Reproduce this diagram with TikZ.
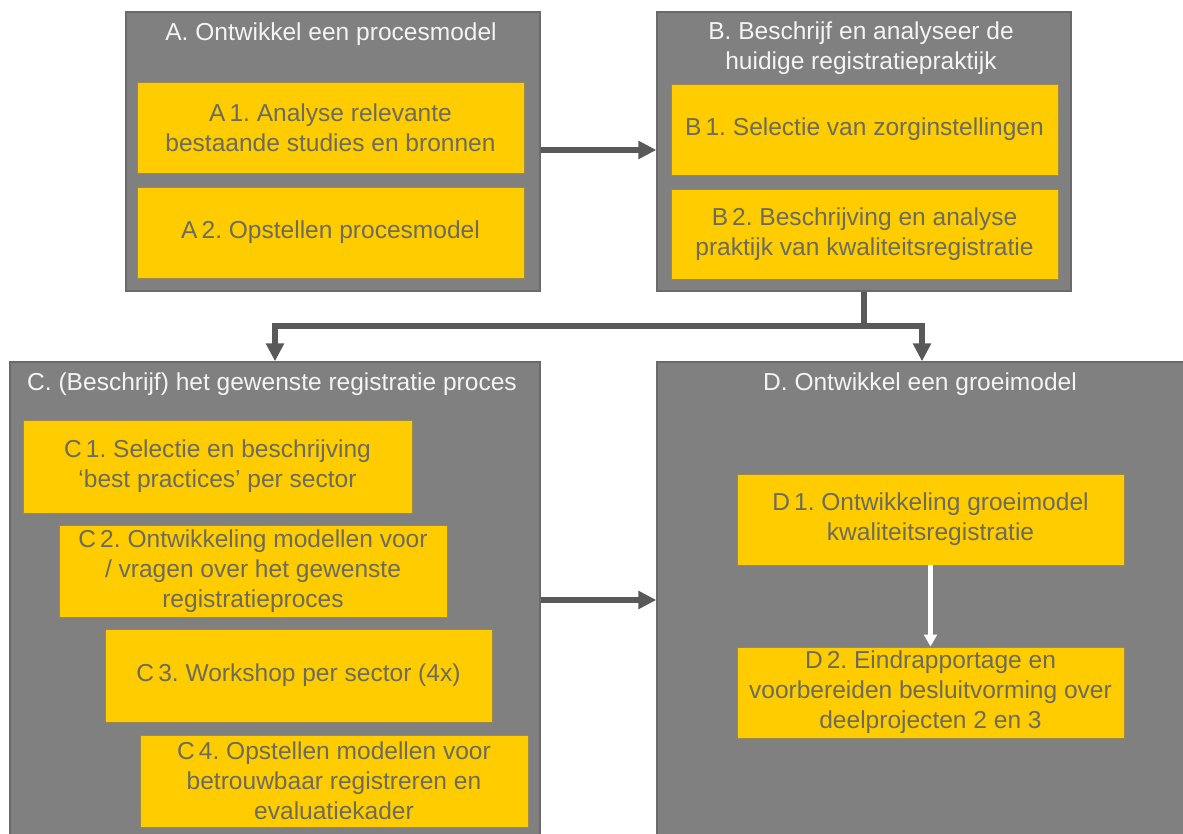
\documentclass[tikz,border=0pt]{standalone}
\usepackage{fontspec}
\setmainfont{Liberation Sans}
\usetikzlibrary{arrows.meta,calc}
\definecolor{phasegray}{HTML}{808080}
\definecolor{phaseedge}{HTML}{6A6A6A}
\definecolor{taskyellow}{HTML}{FFCC00}
\definecolor{taskedge}{HTML}{9A8A50}
\definecolor{tasktext}{HTML}{6B6B5E}
\definecolor{arrowgray}{HTML}{595959}
\definecolor{titletext}{HTML}{F4F4F4}
\frenchspacing
\begin{document}
\begin{tikzpicture}[x=0.75pt,y=-0.75pt,
  txt/.style={font=\fontsize{18.4pt}{22.5pt}\selectfont, align=center},
  phase/.style 2 args={draw=phaseedge, line width=1pt, fill=phasegray,
    minimum width=#1*0.75pt, minimum height=#2*0.75pt, inner sep=0pt},
  task/.style 2 args={draw=taskedge, line width=0.6pt, fill=taskyellow,
    minimum width=#1*0.75pt, minimum height=#2*0.75pt, inner sep=0pt,
    txt, text=tasktext},
  ptitle/.style={txt, text=titletext, inner sep=0pt},
  flow/.style={draw=arrowgray, line width=4.4pt},
  flowarrow/.style={flow, -{Triangle[width=13pt,length=13.5pt]}},
  innerarrow/.style={draw=white, line width=3.4pt, -{Triangle[width=9.5pt,length=9pt]}}
]
\useasboundingbox (0,0) rectangle (1183,834);

% phase containers
\node[phase={414}{279}] (A) at (333,151.5) {};
\node[phase={414}{279}] (B) at (864,151.5) {};
\node[phase={530}{480}] (C) at (275,602) {};
\node[phase={540}{480}] (D) at (927,602) {};

% phase titles
\node[ptitle] (At) at (331,34) {A. Ontwikkel een procesmodel};
\node[ptitle] (Bt) at (861,48) {B. Beschrijf en analyseer de\\huidige registratiepraktijk};
\node[ptitle] (Ct) at (272,384) {C. (Beschrijf) het gewenste registratie proces};
\node[ptitle] (Dt) at (920,384) {D. Ontwikkel een groeimodel};

% tasks of phase A
\node[task={387}{91}] (A1) at (330.5,127.5) {A\,1. Analyse relevante\\bestaande studies en bronnen};
\node[task={387}{91}] (A2) at (330.5,232.5) {A\,2. Opstellen procesmodel};

% tasks of phase B
\node[task={387}{91}] (B1) at (864.5,129.5) {B\,1. Selectie van zorginstellingen};
\node[task={387}{90}] (B2) at (864.5,234) {B\,2. Beschrijving en analyse\\praktijk van kwaliteitsregistratie};

% tasks of phase C
\node[task={389}{93}] (C1) at (217.5,466.5) {C\,1. Selectie en beschrijving\\‘best practices’ per sector};
\node[task={388}{92}] (C2) at (253,571) {C\,2. Ontwikkeling modellen voor\\/ vragen over het gewenste\\registratieproces};
\node[task={387}{93}] (C3) at (298.5,675.5) {C\,3. Workshop per sector (4x)};
\node[task={388}{92}] (C4) at (334,781) {C\,4. Opstellen modellen voor\\betrouwbaar registreren en\\evaluatiekader};

% tasks of phase D
\node[task={387}{91}] (D1) at (930.5,519.5) {D\,1. Ontwikkeling groeimodel\\kwaliteitsregistratie};
\node[task={387}{91}] (D2) at (930.5,692.5) {D\,2. Eindrapportage en\\voorbereiden besluitvorming over\\deelprojecten 2 en 3};

% connectors between phases
\draw[flowarrow] (A.east |- 0,150) -- (B.west |- 0,150);
\draw[flowarrow] (C.east |- 0,600) -- (D.west |- 0,600);
\coordinate (split) at (864,326);
\draw[flow] (B.south) -- (split);
\draw[flowarrow] (split) -| (C.north);
\draw[flowarrow] (split) -| ($(D.north)+(-5,0)$);

% connector inside phase D
\draw[innerarrow] (D1.south) -- (D2.north);
\end{tikzpicture}
\end{document}
